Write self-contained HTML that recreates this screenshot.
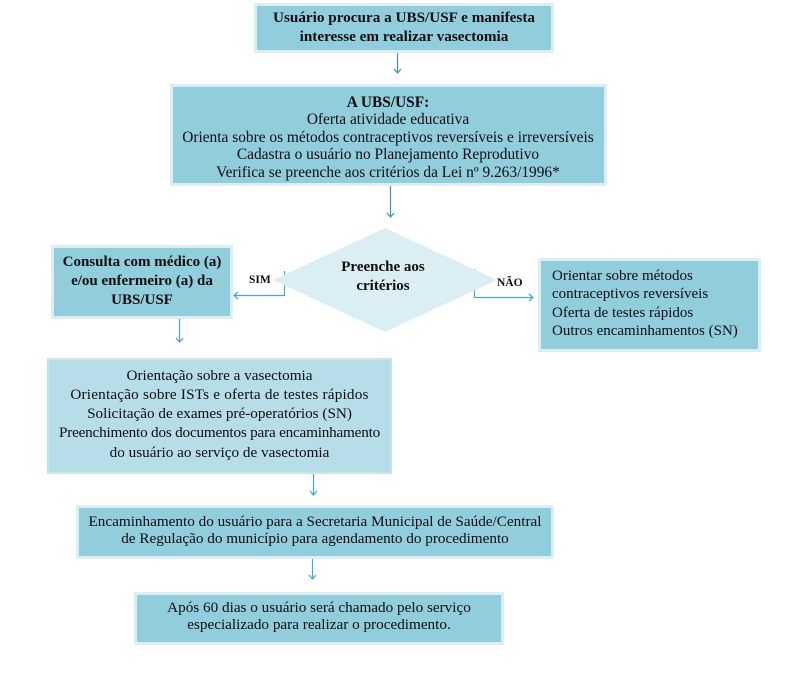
<!DOCTYPE html>
<html>
<head>
<meta charset="utf-8">
<style>
  html,body{margin:0;padding:0;background:#fff;}
  body{width:789px;height:673px;position:relative;overflow:hidden;font-family:"Liberation Serif","Times New Roman",serif;color:#0d0d12;}
  .box{position:absolute;box-sizing:border-box;background:#92cddc;border:3px solid #daeef3;}
  .light{position:absolute;box-sizing:border-box;background:#b7dde8;border:2px solid #c4e3ec;}
  .t{position:absolute;font-size:15px;white-space:nowrap;text-align:center;}
  .b{font-weight:bold;}
  svg{position:absolute;left:0;top:0;}
</style>
</head>
<body>
<svg width="789" height="673" viewBox="0 0 789 673">
  <g fill="none" stroke-width="1.2">
    <polyline points="284.5,271 284.5,295.5 234,295.5" stroke="#4aa5c2"/>
    <polyline points="238,292 234,295.5 238,299" stroke="#4aa5c2"/>
    <polyline points="474.5,269 474.5,297.5 533,297.5" stroke="#4aa5c2"/>
    <polyline points="529,294 533,297.5 529,301" stroke="#4aa5c2"/>
  </g>
  <polygon points="385,228 497,280 385,332 273,280" fill="#daeef3"/>
  <g fill="none" stroke-width="1.2">
    <line x1="397.5" y1="53" x2="397.5" y2="73" stroke="#3f8fae"/>
    <polyline points="394,69 397.5,73 401,69" stroke="#3f8fae"/>
    <line x1="390.5" y1="186" x2="390.5" y2="217" stroke="#3f8fae"/>
    <polyline points="387,213 390.5,217 394,213" stroke="#3f8fae"/>
    <line x1="179.5" y1="319" x2="179.5" y2="342" stroke="#4aa5c2"/>
    <polyline points="176,338 179.5,342 183,338" stroke="#4aa5c2"/>
    <line x1="313.5" y1="474" x2="313.5" y2="495" stroke="#4aa5c2"/>
    <polyline points="310,491 313.5,495 317,491" stroke="#4aa5c2"/>
    <line x1="312.5" y1="559" x2="312.5" y2="579" stroke="#4aa5c2"/>
    <polyline points="309,575 312.5,579 316,575" stroke="#4aa5c2"/>
  </g>
</svg>

<div class="box" style="left:254px;top:3px;width:300px;height:50px;"></div>
<div class="box" style="left:170px;top:84px;width:437px;height:102px;"></div>
<div class="box" style="left:51px;top:245px;width:182px;height:74px;"></div>
<div class="box" style="left:538px;top:258px;width:223px;height:94px;"></div>
<div class="light" style="left:47px;top:358px;width:345px;height:116px;"></div>
<div class="box" style="left:76px;top:505px;width:478px;height:54px;"></div>
<div class="box" style="left:134px;top:592px;width:370px;height:53px;"></div>

<div class="t b" style="left:254px;width:300px;top:8px;line-height:19px;font-size:15.2px;">Usuário procura a UBS/USF e manifesta<br>interesse em realizar vasectomia</div>

<div class="t" style="left:170px;width:436px;top:93.5px;line-height:17.5px;font-size:15.4px;"><span class="b">A UBS/USF:</span><br>Oferta atividade educativa<br>Orienta sobre os métodos contraceptivos reversíveis e irreversíveis<br>Cadastra o usuário no Planejamento Reprodutivo<br>Verifica se preenche aos critérios da Lei nº 9.263/1996*</div>

<div class="t b" style="left:51px;width:182px;top:252.5px;line-height:19px;">Consulta com médico (a)<br>e/ou enfermeiro (a) da<br>UBS/USF</div>

<div class="t b" style="left:283px;width:200px;top:257.5px;line-height:19px;">Preenche aos<br>critérios</div>

<div class="t b" style="left:249px;top:272px;font-size:11.5px;line-height:16px;text-align:left;">SIM</div>
<div class="t b" style="left:497px;top:275px;font-size:11.5px;line-height:16px;text-align:left;">NÃO</div>

<div class="t" style="left:552px;top:266.5px;line-height:18.5px;text-align:left;">Orientar sobre métodos<br>contraceptivos reversíveis<br>Oferta de testes rápidos<br>Outros encaminhamentos (SN)</div>

<div class="t" style="left:47px;width:345px;top:365.5px;line-height:19.3px;font-size:15.2px;">Orientação sobre a vasectomia<br><span style="letter-spacing:0.2px;">Orientação sobre ISTs e oferta de testes rápidos</span><br>Solicitação de exames pré-operatórios (SN)<br><span style="letter-spacing:-0.2px;">Preenchimento dos documentos para encaminhamento</span><br>do usuário ao serviço de vasectomia</div>

<div class="t" style="left:76px;width:478px;top:512.5px;line-height:17px;font-size:15.2px;">Encaminhamento do usuário para a Secretaria Municipal de Saúde/Central<br>de Regulação do município para agendamento do procedimento</div>

<div class="t" style="left:134px;width:370px;top:598.5px;line-height:17px;font-size:15.2px;">Após 60 dias o usuário será chamado pelo serviço<br>especializado para realizar o procedimento.</div>
</body>
</html>
